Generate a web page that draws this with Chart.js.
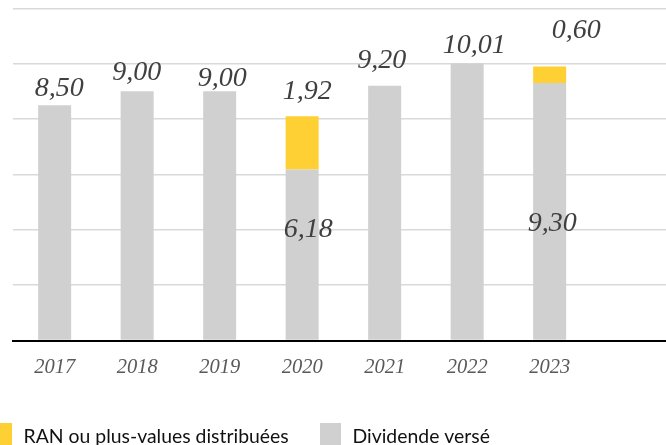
<!DOCTYPE html>
<html>
<head>
<meta charset="utf-8">
<script src="https://cdn.jsdelivr.net/npm/chart.js@4.4.0/dist/chart.umd.min.js"></script>
<style>
    html, body { margin: 0; padding: 0; overflow: hidden; background: #fff; }
    #wrap { position: relative; width: 666px; height: 445px; overflow: hidden; }
    #chart { position: absolute; left: 0; top: 0; }
</style>
</head>
<body>
<div id="wrap"><canvas id="chart" width="680" height="445"></canvas></div>
<script>
    // Years on the x axis (the last slot is left empty, as in the original)
    const years = ['2017', '2018', '2019', '2020', '2021', '2022', '2023', ''];
    // Dividende versé
    const dividend = [8.50, 9.00, 9.00, 6.18, 9.20, 10.01, 9.30, null];
    // RAN ou plus-values distribuées
    const ranValues = [null, null, null, 1.92, null, null, 0.60, null];
    // Value labels as printed (French decimals)
    const dividendText = ['8,50', '9,00', '9,00', '6,18', '9,20', '10,01', '9,30', ''];
    const ranText = ['', '', '', '1,92', '', '', '0,60', ''];

    const GREY = '#d0d0d0';
    const YELLOW = '#ffd033';

    // Hand-placed labels: [dx, dy above the bar top]
    const dividendNudge = [[4.5, 9], [-0.5, 11.7], [2.5, 5], [6, -67.3], [-3, 18], [7, 10.6], [2.5, -147.6]];
    const ranNudge = [null, null, null, [5, 17], null, null, [26.5, 28.7]];

    // Value labels drawn over the bars
    const valueLabels = {
        id: 'valueLabels',
        afterDatasetsDraw(chart) {
            const ctx = chart.ctx;
            ctx.save();
            ctx.font = 'italic 28px "Liberation Serif"';
            ctx.fillStyle = '#404040';
            ctx.textAlign = 'center';
            ctx.textBaseline = 'alphabetic';
            [[0, dividendText, dividendNudge], [1, ranText, ranNudge]].forEach(function(set) {
                const texts = set[1], nudge = set[2];
                chart.getDatasetMeta(set[0]).data.forEach(function(bar, i) {
                    if (!texts[i] || !nudge[i]) return;
                    ctx.fillText(texts[i], bar.x + nudge[i][0], bar.y - nudge[i][1]);
                });
            });
            ctx.restore();
        }
    };

    // Legend at the bottom, cut off like in the original picture
    const bottomLegend = {
        id: 'bottomLegend',
        afterDraw(chart) {
            const ctx = chart.ctx;
            const items = [chart.data.datasets[1], chart.data.datasets[0]];
            const boxX = [-9, 320];
            ctx.save();
            ctx.font = '19.4px Lato';
            ctx.textBaseline = 'alphabetic';
            ctx.textAlign = 'left';
            items.forEach(function(ds, k) {
                ctx.fillStyle = ds.backgroundColor;
                ctx.fillRect(boxX[k], 423, 21, 22);
                ctx.fillStyle = '#111';
                ctx.fillText(ds.label, boxX[k] + 32.5, 443.3);
            });
            ctx.restore();
        }
    };

    new Chart(document.getElementById('chart').getContext('2d'), {
        type: 'bar',
        data: {
            labels: years,
            datasets: [{
                label: 'Dividende versé',
                data: dividend,
                backgroundColor: GREY,
                barPercentage: 0.4,
                categoryPercentage: 1
            }, {
                label: 'RAN ou plus-values distribuées',
                data: ranValues,
                backgroundColor: YELLOW,
                barPercentage: 0.4,
                categoryPercentage: 1
            }]
        },
        options: {
            responsive: false,
            animation: false,
            layout: { padding: { left: 13.4, right: 6.6, top: 8.3, bottom: 0 } },
            plugins: {
                legend: { display: false },
                tooltip: { enabled: false }
            },
            scales: {
                x: {
                    stacked: true,
                    grid: { display: false, drawTicks: false },
                    border: { color: '#000', width: 2 },
                    ticks: {
                        color: '#595959',
                        padding: 15,
                        font: { family: 'Liberation Serif', style: 'italic', size: 20.5 }
                    },
                    afterFit: function(scale) { scale.height = 104.5; }
                },
                y: {
                    stacked: true,
                    min: 0,
                    max: 12,
                    ticks: { display: false, stepSize: 2 },
                    grid: { color: '#d9d9d9', drawTicks: false, lineWidth: 1.5 },
                    border: { display: false }
                }
            }
        },
        plugins: [valueLabels, bottomLegend]
    });
</script>
</body>
</html>
